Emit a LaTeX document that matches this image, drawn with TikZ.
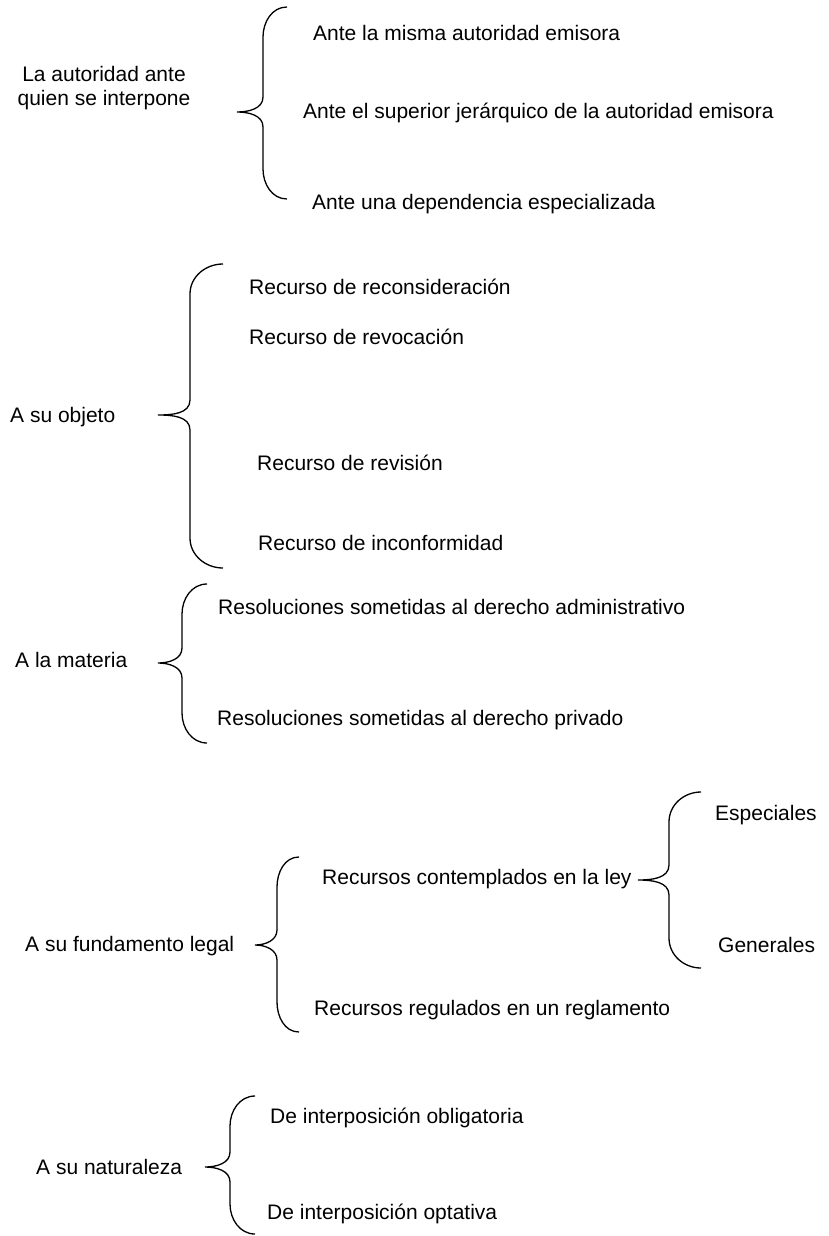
\documentclass[tikz,border=0pt]{standalone}
\usepackage{fontspec}
\setmainfont{Liberation Sans}
\newcommand{\mybrace}[6]{%
  \draw[bracel] (#3,#4) to[out=180,in=90] (#2,#4+30) -- (#2,#5-15)
    to[out=-90,in=0] (#1,#5) to[out=0,in=90] (#2,#5+15) -- (#2,#6-30)
    to[out=-90,in=180] (#3,#6);}
\begin{document}
\begin{tikzpicture}[x=1pt,y=-1pt,
  bracel/.style={line width=1.3pt,black},
  lbl/.style={anchor=west,inner sep=0pt,font=\fontsize{21}{24}\selectfont},
  ctr/.style={align=center,inner sep=0pt,font=\fontsize{21}{24}\selectfont}]
\useasboundingbox (0,0) rectangle (828,1236);
% group 1
\node[ctr] (g1) at (104,88) {La autoridad ante\\quien se interpone};
\mybrace{237}{263}{287}{7}{112}{199}
\node[lbl] (g1a) at (313,33) {Ante la misma autoridad emisora};
\node[lbl] (g1b) at (303,113) {Ante el superior jerárquico de la autoridad emisora};
\node[lbl] (g1c) at (312,204) {Ante una dependencia especializada};
% group 2
\node[lbl] (g2) at (10,417) {A su objeto};
\mybrace{158}{190}{223}{264}{415}{568}
\node[lbl] (g2a) at (249,287) {Recurso de reconsideración};
\node[lbl] (g2b) at (249,337) {Recurso de revocación};
\node[lbl] (g2c) at (257,463) {Recurso de revisión};
\node[lbl] (g2d) at (258,543) {Recurso de inconformidad};
% group 3
\node[lbl] (g3) at (15,660) {A la materia};
\mybrace{158}{182}{207}{584}{663}{743}
\node[lbl] (g3a) at (218,607) {Resoluciones sometidas al derecho administrativo};
\node[lbl] (g3b) at (217,720) {Resoluciones sometidas al derecho privado};
% group 4
\node[lbl] (g4) at (25,946) {A su fundamento legal};
\mybrace{255}{277}{299}{857}{945}{1032}
\node[lbl] (g4a) at (322,879) {Recursos contemplados en la ley};
\node[lbl] (g4b) at (314,1010) {Recursos regulados en un reglamento};
\mybrace{638}{669}{701}{792}{880}{968}
\node[lbl] (g4a1) at (715,815) {Especiales};
\node[lbl] (g4a2) at (718,945) {Generales};
% group 5
\node[lbl] (g5) at (36,1167) {A su naturaleza};
\mybrace{205}{230}{255}{1096}{1167}{1234}
\node[lbl] (g5a) at (270,1118) {De interposición obligatoria};
\node[lbl] (g5b) at (267,1214) {De interposición optativa};
\end{tikzpicture}
\end{document}
